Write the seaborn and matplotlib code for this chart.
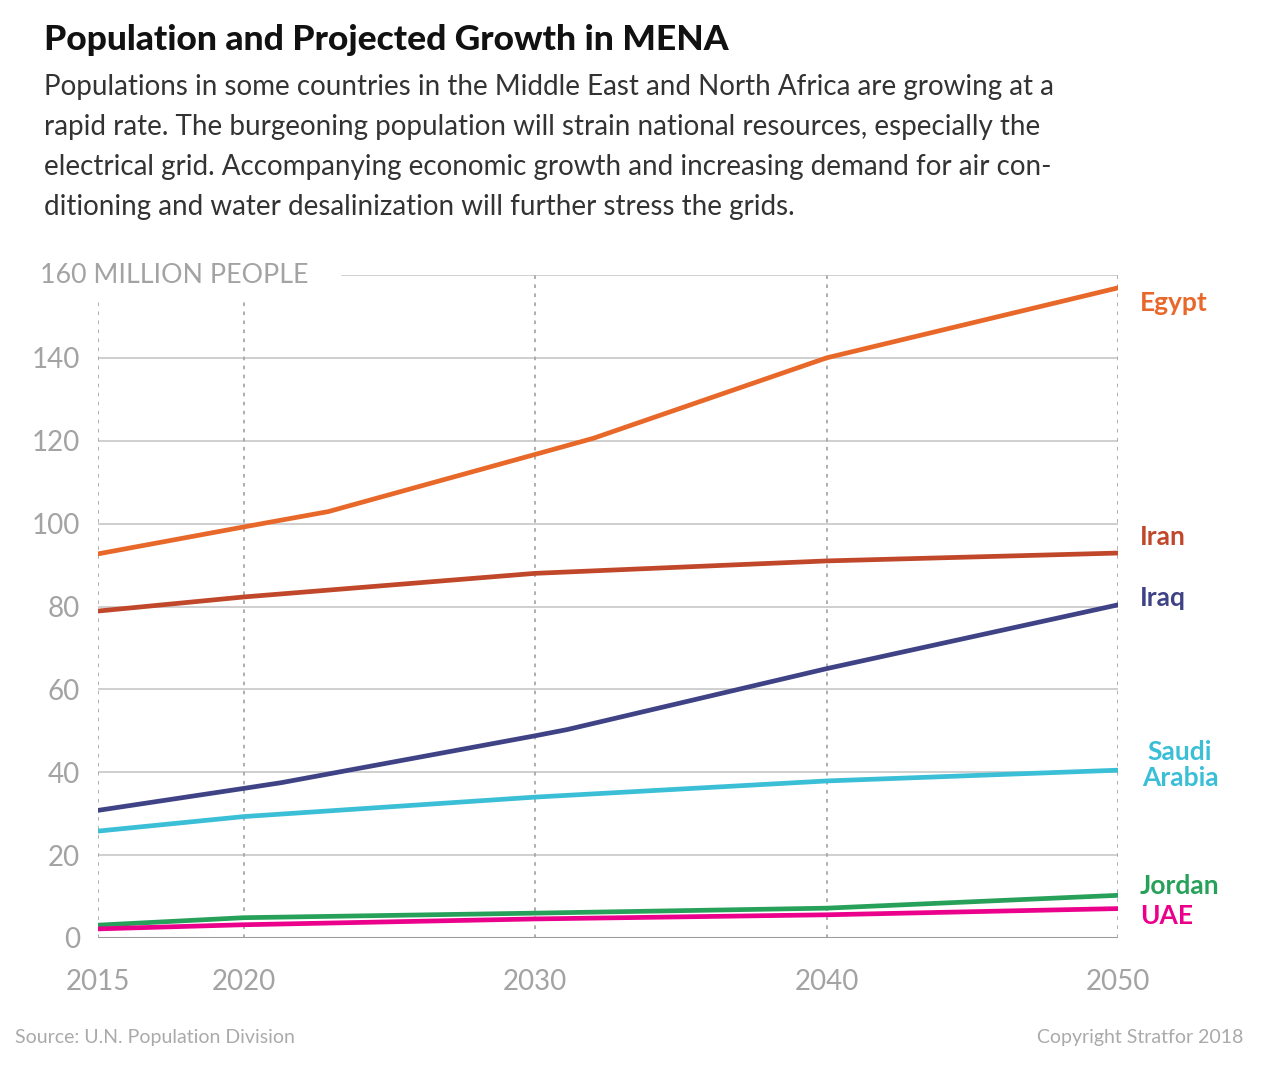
import matplotlib
matplotlib.use("Agg")
import matplotlib.pyplot as plt
import seaborn as sns
import pandas as pd

# ---- data ----
countries = ["Egypt", "Iran", "Iraq", "Saudi Arabia", "Jordan", "UAE"]
egypt_years = [2015, 2020, 2022.9, 2030, 2032, 2040, 2050]
egypt_vals = [92.7, 99.2, 102.9, 116.7, 120.6, 140.0, 156.9]
iran_years = [2015, 2020, 2030, 2040, 2050]
iran_vals = [78.9, 82.3, 88.0, 91.0, 92.9]
iraq_years = [2015, 2020, 2021.3, 2030, 2031.1, 2040, 2050]
iraq_vals = [30.8, 36.1, 37.5, 48.8, 50.3, 65.0, 80.4]
saudi_years = [2015, 2020, 2030, 2040, 2050]
saudi_vals = [25.8, 29.3, 34.0, 37.9, 40.5]
jordan_years = [2015, 2020, 2030, 2040, 2050]
jordan_vals = [3.1, 4.9, 6.0, 7.2, 10.3]
uae_years = [2015, 2020, 2030, 2040, 2050]
uae_vals = [2.2, 3.2, 4.6, 5.6, 7.1]

x_ticks = [2015, 2020, 2030, 2040, 2050]
y_ticks = [0, 20, 40, 60, 80, 100, 120, 140]

colors = {"Egypt": "#E8682A", "Iran": "#C1472A", "Iraq": "#3F4386",
          "Saudi Arabia": "#3BBFD7", "Jordan": "#27A15A", "UAE": "#EB008B"}

series = {"Egypt": (egypt_years, egypt_vals), "Iran": (iran_years, iran_vals),
          "Iraq": (iraq_years, iraq_vals), "Saudi Arabia": (saudi_years, saudi_vals),
          "Jordan": (jordan_years, jordan_vals), "UAE": (uae_years, uae_vals)}
rows = []
for c in countries:
    ys, vs = series[c]
    for y, v in zip(ys, vs):
        rows.append({"year": y, "country": c, "pop": v})
df = pd.DataFrame(rows)

# ---- style ----
sns.set_theme(style="white")
plt.rcParams["font.family"] = ["Lato", "DejaVu Sans"]

fig = plt.figure(figsize=(12.8, 10.66), dpi=100)
ax = fig.add_axes([98 / 1280, 1 - 938 / 1066, (1118 - 98) / 1280, (938 - 275) / 1066])

grey_txt = "#a3a3a3"
# grid
for yv in y_ticks[1:]:
    ax.axhline(yv, color="#cfcfcf", lw=1.4, zorder=0)
ax.axhline(160, xmin=(342 - 98) / 1020, xmax=1, color="#cfcfcf", lw=1.4, zorder=0)
for xv in x_ticks:
    top = 0.962 if xv < 2025 else 1.0
    ax.axvline(xv, ymin=0, ymax=top, color="#a8a8a8", lw=1.3, ls=(0, (2, 3)), zorder=0)
ax.axhline(0, color="#9a9a9a", lw=2.2, zorder=1)

sns.lineplot(data=df, x="year", y="pop", hue="country", palette=colors,
             estimator=None, legend=False, lw=3.4, ax=ax, zorder=3,
             solid_capstyle="round")

ax.set_xlim(2015, 2050)
ax.set_ylim(0, 160)
for s in ax.spines.values():
    s.set_visible(False)
ax.set_xticks(x_ticks)
ax.set_xticklabels([str(t) for t in x_ticks], fontsize=20, color=grey_txt)
ax.set_yticks(y_ticks)
ax.set_yticklabels([str(t) for t in y_ticks], fontsize=20, color=grey_txt)
ax.tick_params(axis="x", length=0, pad=22)
ax.tick_params(axis="y", length=0, pad=13)
ax.set_xlabel("")
ax.set_ylabel("")
ax.patch.set_alpha(0)

# 160 label
fig.text(40 / 1280, 1 - 275 / 1066, "160 MILLION PEOPLE", fontsize=19.3, color=grey_txt,
         va="center", ha="left")

# right-side labels
label_pos = {"Egypt": 153.2, "Iran": 96.8, "Iraq": 82.1, "Saudi Arabia": 41.8,
             "Jordan": 12.6, "UAE": 5.2}
label_text = {"Egypt": "Egypt", "Iran": "Iran", "Iraq": "Iraq",
              "Saudi Arabia": "Saudi\nArabia", "Jordan": "Jordan", "UAE": "UAE"}
for c in countries:
    ha = "center" if c == "Saudi Arabia" else "left"
    xx = 2052.13 if c == "Saudi Arabia" else 2050.75
    ax.text(xx, label_pos[c], label_text[c], color=colors[c], fontsize=19,
            fontweight="bold", ha=ha, va="center", linespacing=1.1, clip_on=False)

# title and subtitle
fig.text(44 / 1280, 1 - 40 / 1066, "Population and Projected Growth in MENA",
         fontsize=25.5, fontweight="black", color="#111111", va="center", ha="left")
sub = ["Populations in some countries in the Middle East and North Africa are growing at a",
       "rapid rate. The burgeoning population will strain national resources, especially the",
       "electrical grid. Accompanying economic growth and increasing demand for air con-",
       "ditioning and water desalinization will further stress the grids."]
for i, line in enumerate(sub):
    fig.text(44 / 1280, 1 - (87 + 40 * i) / 1066, line, fontsize=20, color="#333333",
             va="center", ha="left")

fig.text(15 / 1280, 1 - 1037 / 1066, "Source: U.N. Population Division", fontsize=14,
         color="#aaaaaa", va="center", ha="left")
fig.text(1243 / 1280, 1 - 1037 / 1066, "Copyright Stratfor 2018", fontsize=14,
         color="#aaaaaa", va="center", ha="right")

fig.savefig("out.png", dpi=100, facecolor="white")
